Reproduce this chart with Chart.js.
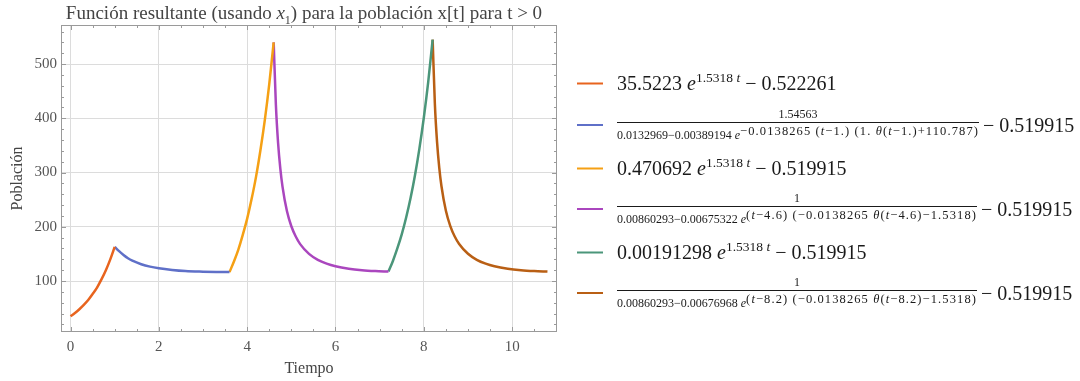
<!DOCTYPE html>
<html lang="es">
<head>
<meta charset="utf-8">
<script src="https://cdn.jsdelivr.net/npm/chart.js@4.4.1/dist/chart.umd.min.js"></script>
<style>
  html, body { margin: 0; padding: 0; background: #fff; }
  #wrap { position: relative; width: 1080px; height: 381px; font-family: "Liberation Serif", "Times New Roman", serif; color: #1a1a1a; }
  #chart { position: absolute; left: 0; top: 0; }
  #title { position: absolute; left: 61px; width: 486px; top: 3px; line-height: 19px; text-align: center; font-size: 19px; color: #444; white-space: nowrap; }
  #title sub { font-size: 12px; line-height: 0; }
  .row { position: absolute; left: 577px; display: flex; align-items: center; transform: translateY(-50%); white-space: nowrap; }
  .swatch { width: 26px; height: 2px; margin-right: 14px; flex: none; }
  .big { font-size: 20px; }
  .big sup { font-size: 13.5px; line-height: 0; }
  .frac { display: inline-flex; flex-direction: column; align-items: center; font-size: 12px; line-height: 13px; }
  .frac .num { padding-bottom: 1px; }
  .frac .den { border-top: 1px solid #1a1a1a; padding-top: 1px; }
  .frac sup { font-size: 12.5px; letter-spacing: 1.1px; line-height: 14px; vertical-align: 4px; }
  .rest { font-size: 20px; margin-left: 4px; }
</style>
</head>
<body>
<div id="wrap">
  <canvas id="chart" width="1080" height="381"></canvas>
  <div id="title">Función resultante (usando <i>x</i><sub>1</sub>) para la población x[t] para t &gt; 0</div>
  <div id="legend"></div>
</div>
<script>
// tick labels
const xTicks = [0, 2, 4, 6, 8, 10];
const yTicks = [100, 200, 300, 400, 500];

// tramo 1: crecimiento inicial
const t1 = [0, 0.1, 0.2, 0.3, 0.4, 0.5, 0.6, 0.7, 0.8, 0.9, 1.0];
const p1 = [35, 41, 48, 56, 65, 76, 88, 103, 120, 140, 163];
// tramo 2: caida despues de t = 1
const t2 = [1.0, 1.1, 1.2, 1.3, 1.4, 1.6, 1.8, 2.0, 2.3, 2.6, 3.0, 3.3, 3.6];
const p2 = [163, 155, 148, 142, 137.5, 131, 126.5, 123.5, 120.5, 118.5, 117.3, 116.7, 116.4];
// tramo 3
const t3 = [3.6, 3.7, 3.8, 3.9, 4.0, 4.1, 4.2, 4.3, 4.4, 4.5, 4.6];
const p3 = [116.4, 136, 158, 185, 215, 251, 292, 341, 397, 463, 540];
// tramo 4
const t4 = [4.6, 4.65, 4.7, 4.75, 4.8, 4.9, 5.0, 5.1, 5.2, 5.4, 5.6, 5.8, 6.0, 6.3, 6.6, 6.9, 7.2];
const p4 = [540, 425, 354.5, 307.5, 274, 229, 201, 182, 168, 150, 139, 132, 127.2, 122.7, 120, 118.4, 117.4];
// tramo 5
const t5 = [7.2, 7.3, 7.4, 7.5, 7.6, 7.7, 7.8, 7.9, 8.0, 8.1, 8.2];
const p5 = [117.4, 137, 160, 186, 217, 253, 295, 344, 401, 467, 545];
// tramo 6
const t6 = [8.2, 8.25, 8.3, 8.35, 8.4, 8.5, 8.6, 8.7, 8.8, 9.0, 9.2, 9.4, 9.6, 9.9, 10.2, 10.5, 10.8];
const p6 = [545, 427, 356, 308.7, 274.7, 229.6, 201.3, 182, 168.3, 150.2, 139.1, 132, 127.2, 122.7, 120, 118.4, 117.4];

const seriesT = [t1, t2, t3, t4, t5, t6];
const seriesP = [p1, p2, p3, p4, p5, p6];
const seriesColors = ['#e8641e', '#5f70c8', '#f5a014', '#aa46be', '#4b967a', '#b95f14'];

const legendItems = [
  '<span class="big">35.5223 <i>e</i><sup>1.5318 <i>t</i></sup> − 0.522261</span>',
  '<span class="frac"><span class="num">1.54563</span><span class="den">0.0132969−0.00389194 <i>e</i><sup>−0.0138265 (<i>t</i>−1.) (1. <i>θ</i>(<i>t</i>−1.)+110.787)</sup></span></span><span class="rest">− 0.519915</span>',
  '<span class="big">0.470692 <i>e</i><sup>1.5318 <i>t</i></sup> − 0.519915</span>',
  '<span class="frac"><span class="num">1</span><span class="den">0.00860293−0.00675322 <i>e</i><sup>(<i>t</i>−4.6) (−0.0138265 <i>θ</i>(<i>t</i>−4.6)−1.5318)</sup></span></span><span class="rest">− 0.519915</span>',
  '<span class="big">0.00191298 <i>e</i><sup>1.5318 <i>t</i></sup> − 0.519915</span>',
  '<span class="frac"><span class="num">1</span><span class="den">0.00860293−0.00676968 <i>e</i><sup>(<i>t</i>−8.2) (−0.0138265 <i>θ</i>(<i>t</i>−8.2)−1.5318)</sup></span></span><span class="rest">− 0.519915</span>'
];
const legendRowY = [83, 125, 168, 209, 252, 293];

const legend = document.getElementById('legend');
legendItems.forEach((html, i) => {
  const row = document.createElement('div');
  row.className = 'row';
  row.style.top = legendRowY[i] + 'px';
  row.innerHTML = '<span class="swatch" style="background:' + seriesColors[i] + '"></span>' + html;
  legend.appendChild(row);
});

const fontFamily = '"Liberation Serif", "Times New Roman", serif';

// frame with inward ticks on all four sides, like the original plot
const frameTicks = {
  id: 'frameTicks',
  afterDatasetsDraw(chart) {
    const { ctx, chartArea: a, scales: { x, y } } = chart;
    ctx.save();
    ctx.strokeStyle = '#9a9a9a';
    ctx.lineWidth = 1;
    ctx.beginPath();
    for (let v = 0; v <= x.max; v += 0.5) {
      const px = Math.round(x.getPixelForValue(v)) + 0.5;
      const len = v % 2 === 0 ? 5 : 3;
      ctx.moveTo(px, a.bottom); ctx.lineTo(px, a.bottom - len);
      ctx.moveTo(px, a.top); ctx.lineTo(px, a.top + len);
    }
    for (let v = 20; v <= y.max; v += 20) {
      const py = Math.round(y.getPixelForValue(v)) + 0.5;
      const len = v % 100 === 0 ? 5 : 3;
      ctx.moveTo(a.left, py); ctx.lineTo(a.left + len, py);
      ctx.moveTo(a.right, py); ctx.lineTo(a.right - len, py);
    }
    ctx.stroke();
    ctx.strokeRect(a.left + 0.5, a.top + 0.5, a.right - a.left - 1, a.bottom - a.top - 1);
    ctx.restore();
  }
};

new Chart(document.getElementById('chart'), {
  type: 'line',
  data: {
    datasets: seriesT.map((ts, i) => ({
      data: ts.map((t, j) => ({ x: t, y: seriesP[i][j] })),
      borderColor: seriesColors[i],
      borderWidth: 2.5,
      pointRadius: 0,
      cubicInterpolationMode: 'monotone',
      fill: false
    }))
  },
  options: {
    responsive: false,
    animation: false,
    layout: { padding: { left: 0, right: 523, top: 25, bottom: 0 } },
    plugins: { legend: { display: false }, tooltip: { enabled: false } },
    scales: {
      x: {
        type: 'linear',
        min: -0.216,
        max: 11.016,
        afterBuildTicks: s => { s.ticks = xTicks.map(v => ({ value: v })); },
        afterFit: s => { s.height = 49; },
        grid: { color: '#dcdcdc', drawTicks: false },
        border: { display: false },
        ticks: { padding: 6, color: '#555', font: { family: fontFamily, size: 15 } },
        title: { display: true, text: 'Tiempo', color: '#444', font: { family: fontFamily, size: 16 }, padding: { top: 0, bottom: 3 } }
      },
      y: {
        type: 'linear',
        min: 6,
        max: 572,
        afterBuildTicks: s => { s.ticks = yTicks.map(v => ({ value: v })); },
        afterFit: s => { s.width = 61; },
        grid: { color: '#dcdcdc', drawTicks: false },
        border: { display: false },
        ticks: { padding: 4, color: '#555', font: { family: fontFamily, size: 15 } },
        title: { display: true, text: 'Población', color: '#444', font: { family: fontFamily, size: 16 }, padding: { top: 8, bottom: 0 } }
      }
    }
  },
  plugins: [frameTicks]
});
</script>
</body>
</html>
